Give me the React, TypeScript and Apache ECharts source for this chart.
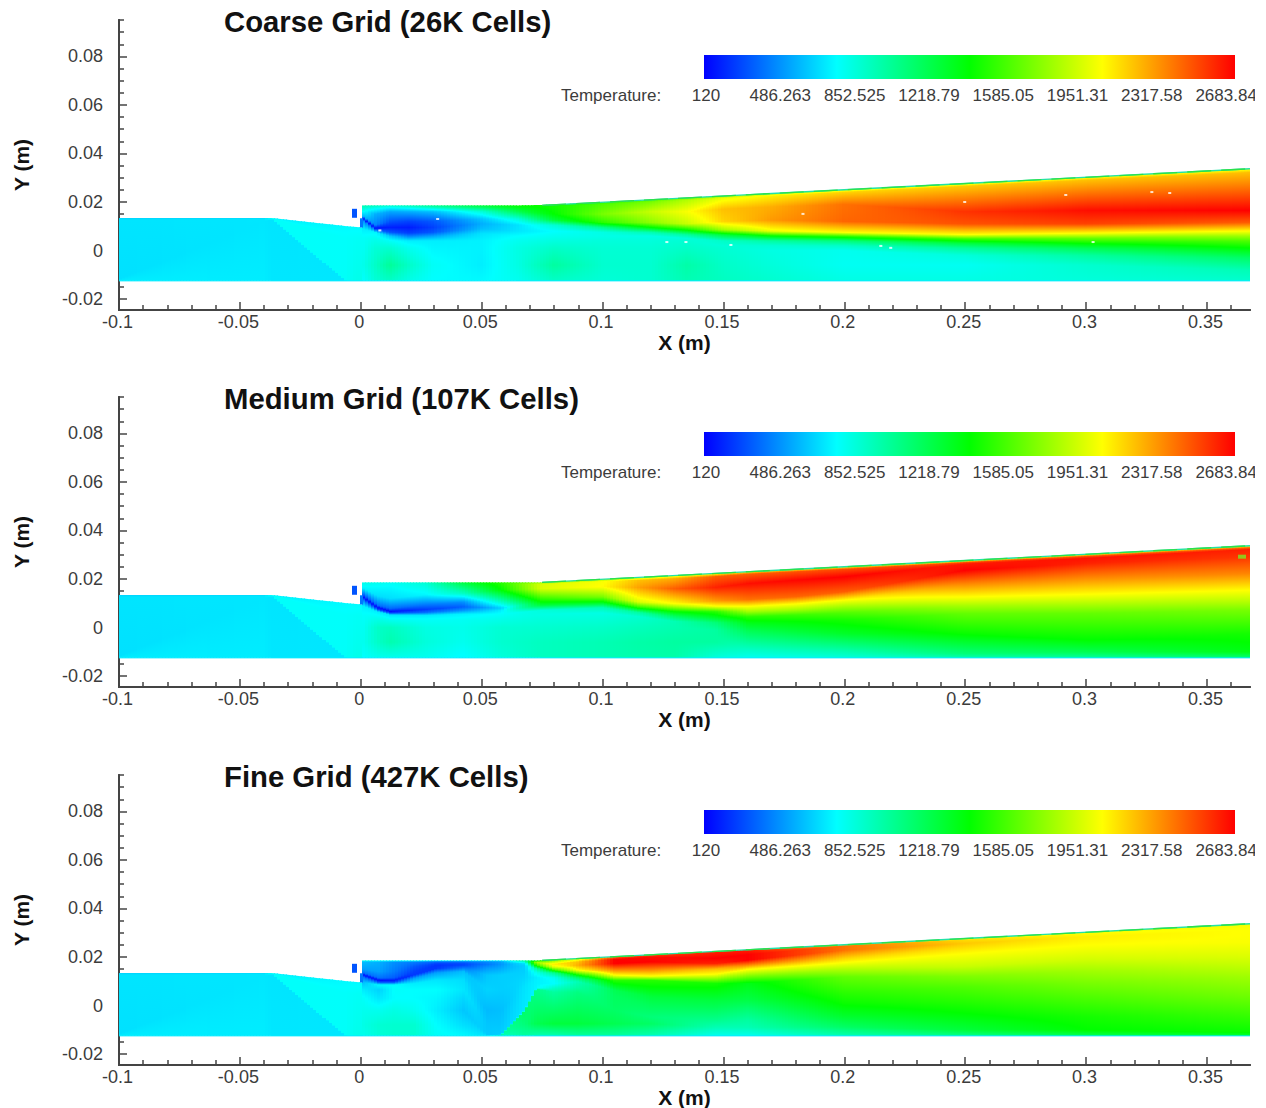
import React, { useEffect, useRef } from "react";
import * as echarts from "echarts";

type Stop = [number, number];
type Block = { xs: number[]; rows: Stop[][] };

const titles = ["Coarse Grid (26K Cells)", "Medium Grid (107K Cells)", "Fine Grid (427K Cells)"];
const colorbarLabels = ["120", "486.263", "852.525", "1218.79", "1585.05", "1951.31", "2317.58", "2683.84"];
const xMajorTicks = [-0.1, -0.05, 0, 0.05, 0.1, 0.15, 0.2, 0.25, 0.3, 0.35];
const xMinorTicks = [-0.09, -0.08, -0.07, -0.06, -0.04, -0.03, -0.02, -0.01, 0.01, 0.02, 0.03, 0.04, 0.06, 0.07, 0.08, 0.09, 0.11, 0.12, 0.13, 0.14, 0.16, 0.17, 0.18, 0.19, 0.21, 0.22, 0.23, 0.24, 0.26, 0.27, 0.28, 0.29, 0.31, 0.32, 0.33, 0.34, 0.36];
const yMajorTicks = [-0.02, 0, 0.02, 0.04, 0.06, 0.08];
const yMinorTicks = [-0.015, -0.01, -0.005, 0.005, 0.01, 0.015, 0.025, 0.03, 0.035, 0.045, 0.05, 0.055, 0.065, 0.07, 0.075, 0.085, 0.09, 0.095];

// Temperature scale
const tMin = 120;
const tMax = 2683.84;
const scaleColors = ["#0000ff", "#00ffff", "#00ff00", "#ffff00", "#ff0000"];

// Inlet section, shared by the three grids: [y, temperature] at each station
const inletStations = [-0.1, -0.04, -0.0367, -0.0065, -0.002, 0.0005];
const inletRows: Stop[][] = [
  [[-0.0125, 720], [-0.0118, 685], [0.0125, 695], [0.0131, 670], [0.0134, 640]],
  [[-0.0125, 715], [0.012, 700], [0.0128, 700], [0.0132, 680], [0.0134, 660]],
  [[-0.0125, 700], [0.0128, 695], [0.0131, 770], [0.0133, 770], [0.0134, 720]],
  [[-0.0125, 700], [-0.0125, 700], [-0.0122, 775], [0.005, 770], [0.0101, 750]],
  [[-0.0125, 800], [-0.0125, 800], [-0.0122, 810], [0.005, 780], [0.0097, 750]],
  [[-0.0125, 800], [-0.0125, 800], [-0.0122, 810], [0.005, 780], [0.0095, 750]],
];

// Injector marks
const injectorStations = [-0.0036, -0.0019];
const injectorRows: Stop[][] = [
  [[0.0135, 330], [0.0172, 330]],
  [[0.0135, 330], [0.0172, 330]],
];
const lipStations = [-0.0005, 0.0005];
const lipRows: Stop[][] = [
  [[0.0095, 420], [0.0133, 420]],
  [[0.0095, 420], [0.0133, 420]],
];

// Coarse grid
const coarseStations = [0.0005, 0.006, 0.012, 0.02, 0.03, 0.05, 0.065, 0.08, 0.1, 0.12, 0.135, 0.15, 0.17, 0.2, 0.25, 0.3, 0.3678];
const coarseRows: Stop[][] = [
  [[-0.0125, 760], [-0.006, 800], [0.001, 780], [0.005, 780], [0.009, 720], [0.0125, 500], [0.0135, 180], [0.0145, 600], [0.017, 850], [0.018, 920], [0.0186, 950]],
  [[-0.0125, 860], [-0.006, 900], [0.001, 860], [0.005, 800], [0.0075, 740], [0.0085, 400], [0.0092, 150], [0.0105, 450], [0.015, 560], [0.018, 850], [0.0186, 950]],
  [[-0.0125, 900], [-0.006, 1020], [0.001, 880], [0.004, 780], [0.006, 620], [0.0075, 340], [0.0095, 200], [0.012, 330], [0.016, 540], [0.018, 800], [0.0186, 900]],
  [[-0.0125, 820], [-0.006, 900], [0.001, 800], [0.004, 720], [0.0055, 500], [0.0072, 280], [0.0095, 190], [0.012, 290], [0.016, 560], [0.018, 850], [0.0186, 950]],
  [[-0.0125, 760], [-0.006, 780], [0.001, 740], [0.004, 720], [0.006, 520], [0.0075, 340], [0.0095, 280], [0.012, 340], [0.016, 600], [0.018, 950], [0.0186, 1050]],
  [[-0.0125, 750], [-0.006, 720], [0.001, 730], [0.004, 730], [0.007, 690], [0.009, 600], [0.011, 560], [0.013, 620], [0.016, 860], [0.018, 1180], [0.0186, 1250]],
  [[-0.0125, 800], [-0.006, 830], [0.001, 830], [0.004, 800], [0.006, 760], [0.008, 700], [0.0105, 690], [0.013, 850], [0.016, 1200], [0.018, 1360], [0.0186, 1400]],
  [[-0.0125, 900], [-0.006, 1000], [0.001, 900], [0.004, 840], [0.006, 800], [0.008, 760], [0.0105, 870], [0.0125, 1250], [0.015, 1400], [0.018, 1450], [0.0189, 1450]],
  [[-0.0125, 860], [-0.006, 880], [0.001, 870], [0.004, 850], [0.006, 820], [0.0075, 830], [0.0095, 1050], [0.0115, 1500], [0.015, 1700], [0.019, 1600], [0.0199, 1500]],
  [[-0.0125, 880], [-0.006, 880], [0.001, 870], [0.004, 850], [0.006, 830], [0.0075, 960], [0.0095, 1400], [0.0115, 1750], [0.016, 1900], [0.02, 1700], [0.0209, 1600]],
  [[-0.0125, 950], [-0.006, 980], [0.001, 900], [0.004, 870], [0.005, 850], [0.0065, 1000], [0.0085, 1420], [0.011, 1900], [0.016, 2030], [0.0207, 1850], [0.0217, 1700]],
  [[-0.0125, 920], [-0.006, 900], [0.001, 870], [0.002, 860], [0.004, 900], [0.0065, 1250], [0.0085, 1800], [0.012, 2150], [0.017, 2200], [0.0215, 2000], [0.0225, 1800]],
  [[-0.0125, 880], [-0.006, 850], [0, 830], [0.002, 870], [0.004, 1000], [0.006, 1400], [0.008, 2000], [0.0125, 2300], [0.018, 2250], [0.0225, 2080], [0.0235, 1900]],
  [[-0.0125, 830], [-0.006, 790], [0, 800], [0.002, 900], [0.004, 1100], [0.0058, 1500], [0.0075, 2050], [0.012, 2430], [0.019, 2400], [0.024, 2150], [0.025, 1950]],
  [[-0.0125, 830], [-0.006, 790], [-0.002, 850], [0.001, 1020], [0.003, 1250], [0.0048, 1550], [0.0066, 2050], [0.011, 2480], [0.016, 2560], [0.0265, 2180], [0.0276, 1950]],
  [[-0.0125, 850], [-0.006, 880], [-0.002, 1000], [0.001, 1200], [0.003, 1420], [0.005, 1650], [0.0072, 2050], [0.011, 2520], [0.0165, 2650], [0.029, 2200], [0.0302, 2000]],
  [[-0.0125, 880], [-0.008, 950], [-0.003, 1150], [0.001, 1400], [0.004, 1600], [0.006, 1800], [0.0081, 2050], [0.0115, 2450], [0.0165, 2684], [0.0322, 2200], [0.0337, 2000]],
];

// Medium grid
const mediumStations = [0.0005, 0.007, 0.0124, 0.027, 0.042, 0.058, 0.075, 0.1, 0.115, 0.13, 0.147, 0.16, 0.18, 0.2, 0.25, 0.3, 0.3678];
const mediumRows: Stop[][] = [
  [[-0.0125, 760], [-0.006, 790], [0, 780], [0.005, 770], [0.009, 730], [0.0115, 450], [0.0128, 170], [0.0138, 350], [0.0165, 740], [0.0178, 790], [0.0186, 820]],
  [[-0.0125, 800], [-0.006, 900], [0, 900], [0.004, 800], [0.0065, 720], [0.0075, 300], [0.0082, 140], [0.0092, 400], [0.013, 680], [0.0178, 780], [0.0186, 820]],
  [[-0.0125, 800], [-0.006, 960], [0, 920], [0.003, 800], [0.0052, 700], [0.006, 300], [0.0066, 160], [0.0078, 380], [0.012, 680], [0.0178, 770], [0.0186, 800]],
  [[-0.0125, 800], [-0.006, 850], [0, 830], [0.003, 780], [0.005, 710], [0.0062, 400], [0.0074, 270], [0.0095, 430], [0.0135, 740], [0.0178, 850], [0.0186, 880]],
  [[-0.0125, 750], [-0.006, 800], [0, 810], [0.003, 790], [0.0055, 730], [0.007, 500], [0.0085, 360], [0.0105, 480], [0.014, 900], [0.0178, 1180], [0.0186, 1250]],
  [[-0.0125, 850], [-0.006, 880], [0, 870], [0.003, 820], [0.0055, 770], [0.007, 720], [0.008, 640], [0.011, 950], [0.0155, 1400], [0.0178, 1480], [0.0186, 1500]],
  [[-0.0125, 920], [-0.006, 920], [0, 880], [0.0055, 830], [0.0071, 850], [0.0092, 1250], [0.0105, 1400], [0.012, 1550], [0.016, 1950], [0.0178, 1950], [0.0186, 1800]],
  [[-0.0125, 950], [-0.006, 950], [0, 900], [0.006, 830], [0.0082, 950], [0.0095, 1200], [0.0106, 1400], [0.0126, 1700], [0.0168, 2050], [0.019, 2030], [0.0199, 1800]],
  [[-0.0125, 970], [-0.006, 980], [0, 930], [0.0045, 880], [0.0062, 1000], [0.0075, 1300], [0.0085, 1550], [0.0105, 1950], [0.0165, 2280], [0.0195, 2200], [0.0206, 1850]],
  [[-0.0125, 980], [-0.006, 1000], [0, 960], [0.0025, 950], [0.0045, 1150], [0.0065, 1400], [0.0085, 1800], [0.0099, 2050], [0.016, 2450], [0.0202, 2250], [0.0214, 1950]],
  [[-0.0125, 850], [-0.006, 1000], [-0.001, 1000], [0.002, 1100], [0.004, 1300], [0.0065, 1500], [0.0088, 2040], [0.011, 2300], [0.0165, 2600], [0.021, 2450], [0.0223, 2000]],
  [[-0.0125, 800], [-0.0093, 900], [-0.0011, 1200], [0.002, 1350], [0.0044, 1500], [0.0065, 1800], [0.0087, 2040], [0.0115, 2400], [0.0181, 2650], [0.022, 2450], [0.023, 2100]],
  [[-0.0125, 820], [-0.0098, 920], [-0.0018, 1250], [0.0025, 1400], [0.0052, 1550], [0.0072, 1800], [0.0097, 2040], [0.0127, 2430], [0.0195, 2670], [0.023, 2480], [0.024, 2070]],
  [[-0.0125, 850], [-0.01, 950], [-0.0025, 1300], [0.003, 1450], [0.006, 1600], [0.0085, 1800], [0.0113, 2040], [0.0147, 2450], [0.0209, 2684], [0.024, 2500], [0.025, 2050]],
  [[-0.0125, 950], [-0.0107, 1100], [-0.0025, 1420], [0.0058, 1650], [0.009, 1820], [0.0126, 2043], [0.0181, 2350], [0.0236, 2684], [0.0262, 2620], [0.0268, 2500], [0.0276, 1950]],
  [[-0.0125, 1000], [-0.01, 1200], [-0.0052, 1400], [0.0058, 1650], [0.0095, 1830], [0.0137, 2043], [0.0195, 2300], [0.0264, 2600], [0.0285, 2640], [0.0293, 2500], [0.0302, 2000]],
  [[-0.0125, 1100], [-0.01, 1350], [-0.0025, 1450], [0.0071, 1700], [0.011, 1870], [0.0154, 2043], [0.0223, 2350], [0.0291, 2550], [0.0322, 2600], [0.0329, 2450], [0.0337, 2000]],
];

// Fine grid
const fineStations = [0.0005, 0.0076, 0.014, 0.022, 0.0314, 0.0425, 0.052, 0.058, 0.0678, 0.0727, 0.08, 0.09, 0.105, 0.12, 0.147, 0.16, 0.2, 0.25, 0.3, 0.3678];
const fineRows: Stop[][] = [
  [[-0.0125, 800], [-0.008, 820], [-0.002, 800], [0.003, 780], [0.0065, 720], [0.0095, 600], [0.0118, 420], [0.0128, 150], [0.0136, 400], [0.015, 520], [0.018, 600], [0.0186, 820]],
  [[-0.0125, 860], [-0.008, 870], [-0.002, 800], [0.003, 700], [0.0065, 650], [0.0085, 750], [0.0095, 350], [0.0104, 150], [0.0113, 400], [0.014, 520], [0.0178, 560], [0.0186, 780]],
  [[-0.0125, 880], [-0.008, 880], [-0.002, 830], [0.003, 760], [0.0065, 770], [0.0085, 760], [0.0096, 320], [0.0104, 190], [0.0114, 350], [0.014, 430], [0.0178, 480], [0.0186, 760]],
  [[-0.0125, 880], [-0.008, 880], [-0.002, 800], [0.003, 760], [0.0065, 760], [0.009, 720], [0.0112, 520], [0.0125, 260], [0.014, 280], [0.016, 340], [0.0178, 430], [0.0186, 760]],
  [[-0.0125, 780], [-0.008, 760], [-0.002, 720], [0.003, 740], [0.0065, 760], [0.0105, 700], [0.0135, 520], [0.0153, 260], [0.0165, 250], [0.0172, 280], [0.018, 380], [0.0186, 740]],
  [[-0.0125, 750], [-0.008, 680], [-0.002, 620], [0.003, 660], [0.0065, 700], [0.0105, 680], [0.014, 600], [0.0155, 420], [0.0166, 300], [0.0172, 300], [0.018, 400], [0.0186, 740]],
  [[-0.0125, 690], [-0.0125, 690], [-0.0124, 650], [-0.012, 630], [-0.008, 620], [-0.002, 590], [0.0065, 650], [0.0125, 620], [0.0155, 500], [0.0169, 420], [0.018, 460], [0.0186, 740]],
  [[-0.0125, 900], [-0.0124, 950], [-0.0123, 980], [-0.0119, 640], [-0.008, 620], [-0.002, 600], [0.0065, 640], [0.0125, 640], [0.015, 560], [0.0169, 500], [0.018, 520], [0.0186, 740]],
  [[-0.0125, 1000], [-0.0075, 1100], [-0.0024, 1150], [-0.0018, 700], [0.003, 700], [0.008, 690], [0.0115, 660], [0.014, 640], [0.0166, 640], [0.0175, 700], [0.018, 900], [0.0186, 1000]],
  [[-0.0125, 950], [-0.0075, 1200], [0.0068, 1050], [0.0072, 740], [0.009, 730], [0.0105, 725], [0.0115, 720], [0.0135, 800], [0.0152, 1000], [0.0165, 1500], [0.0178, 1800], [0.0186, 1350]],
  [[-0.0125, 950], [-0.0075, 1250], [0.0055, 1000], [0.0072, 900], [0.009, 760], [0.0105, 770], [0.0115, 800], [0.0135, 1050], [0.0145, 1500], [0.0158, 1950], [0.017, 2100], [0.0189, 1700]],
  [[-0.0125, 1000], [-0.0075, 1250], [0.0055, 1080], [0.0075, 1000], [0.0098, 950], [0.0108, 1050], [0.0115, 1150], [0.0125, 1400], [0.0146, 2040], [0.0166, 2250], [0.018, 2200], [0.0194, 1900]],
  [[-0.0125, 1000], [-0.0075, 1200], [-0.002, 1150], [0.004, 1170], [0.0063, 1200], [0.0104, 1500], [0.0115, 1800], [0.0125, 2040], [0.0143, 2300], [0.0173, 2684], [0.019, 2684], [0.0201, 2400]],
  [[-0.0125, 950], [-0.0075, 1150], [-0.0047, 1100], [0, 1180], [0.0036, 1250], [0.0104, 1500], [0.0113, 1800], [0.0121, 2040], [0.0143, 2300], [0.018, 2684], [0.02, 2650], [0.0209, 2500]],
  [[-0.0125, 800], [-0.009, 950], [-0.006, 1050], [-0.001, 1180], [0.0022, 1250], [0.0091, 1450], [0.011, 1750], [0.0129, 2040], [0.015, 2200], [0.0173, 2600], [0.0194, 2684], [0.0223, 2600]],
  [[-0.0125, 800], [-0.009, 950], [-0.006, 1000], [-0.001, 1130], [0.002, 1220], [0.0091, 1350], [0.012, 1700], [0.0153, 2100], [0.017, 2400], [0.0187, 2684], [0.021, 2684], [0.023, 2600]],
  [[-0.0125, 950], [-0.0088, 1150], [-0.004, 1300], [0.0008, 1420], [0.005, 1500], [0.0118, 1650], [0.015, 1850], [0.0177, 2043], [0.0194, 2150], [0.0228, 2400], [0.0245, 2400], [0.025, 2200]],
  [[-0.0125, 1050], [-0.0102, 1250], [-0.0033, 1400], [0.002, 1500], [0.0077, 1600], [0.012, 1720], [0.016, 1900], [0.0214, 2043], [0.024, 2130], [0.0256, 2180], [0.027, 2130], [0.0276, 2000]],
  [[-0.0125, 1180], [-0.0102, 1400], [-0.0047, 1450], [0.002, 1570], [0.0091, 1700], [0.014, 1800], [0.019, 1930], [0.0249, 2043], [0.027, 2070], [0.0283, 2080], [0.0295, 2050], [0.0302, 1980]],
  [[-0.0125, 1250], [-0.0109, 1420], [-0.0033, 1550], [0.004, 1680], [0.0118, 1800], [0.016, 1880], [0.02, 1950], [0.026, 2030], [0.029, 2040], [0.031, 2040], [0.033, 2020], [0.0337, 1950]],
];

// Walls and isolated cells
const slopedWall = [[0.075, 0.0186], [0.3678, 0.0337]];
const lowerWall = [[-0.1, -0.0125], [0.3678, -0.0125]];
const coarseSpecks = [[0.0318, 0.013], [0.0079, 0.0083], [0.1266, 0.0035], [0.1345, 0.0035], [0.1531, 0.0023], [0.1829, 0.0151], [0.2498, 0.02], [0.2916, 0.0229], [0.3272, 0.0241], [0.3346, 0.0237], [0.2151, 0.0019], [0.2192, 0.0011], [0.3029, 0.0035]];
const mediumSpecks = [[0.3645, 0.0292]];

const X_MIN = -0.1;
const X_MAX = 0.3678;
const Y_MIN = -0.0245;
const Y_MAX = 0.095;
const panelTops = [20, 397, 775];
const PANEL_H = 290;
const FONT = "'Liberation Sans', Arial, sans-serif";

const knots = [0, 1, 2, 3, 4].map((i) => tMin + ((tMax - tMin) * i) / 4);

function hex(c: string) {
  return [parseInt(c.slice(1, 3), 16), parseInt(c.slice(3, 5), 16), parseInt(c.slice(5, 7), 16)];
}
function tempColor(t: number) {
  const f = Math.max(0, Math.min(0.99999, (t - tMin) / (tMax - tMin))) * 4;
  const i = Math.floor(f);
  const a = hex(scaleColors[i]);
  const b = hex(scaleColors[i + 1]);
  const u = f - i;
  const m = a.map((v, k) => Math.round(v + (b[k] - v) * u));
  return `rgb(${m[0]},${m[1]},${m[2]})`;
}
function profileAt(b: Block, x: number): Stop[] {
  let i = 0;
  while (i < b.xs.length - 2 && x > b.xs[i + 1]) i++;
  const u = Math.max(0, Math.min(1, (x - b.xs[i]) / (b.xs[i + 1] - b.xs[i])));
  return b.rows[i].map((s, k) => [
    s[0] + (b.rows[i + 1][k][0] - s[0]) * u,
    s[1] + (b.rows[i + 1][k][1] - s[1]) * u,
  ]) as Stop[];
}
function gradientFor(p: Stop[], yPxBottom: number, yPxTop: number) {
  const y0 = p[0][0];
  const y1 = p[p.length - 1][0];
  const span = Math.max(y1 - y0, 1e-9);
  const stops: { offset: number; color: string }[] = [];
  const add = (y: number, t: number) => stops.push({ offset: Math.max(0, Math.min(1, (y - y0) / span)), color: tempColor(t) });
  for (let i = 0; i < p.length; i++) {
    add(p[i][0], p[i][1]);
    if (i < p.length - 1) {
      const [ya, ta] = p[i];
      const [yb, tb] = p[i + 1];
      const cross = knots.filter((k) => (k - ta) * (k - tb) < 0);
      if (tb < ta) cross.reverse();
      cross.forEach((k) => add(ya + ((yb - ya) * (k - ta)) / (tb - ta), k));
    }
  }
  return new echarts.graphic.LinearGradient(0, yPxBottom, 0, yPxTop, stops, true);
}

function fieldSeries(block: Block, panel: number, step: number) {
  const start = block.xs[0];
  const end = block.xs[block.xs.length - 1];
  const n = Math.max(1, Math.round((end - start) / step));
  const strips: number[][] = [];
  for (let i = 0; i < n; i++) strips.push([start + ((end - start) * i) / n, start + ((end - start) * (i + 1)) / n]);
  return {
    type: "custom",
    xAxisIndex: panel * 2,
    yAxisIndex: panel * 2,
    coordinateSystem: "cartesian2d",
    silent: true,
    clip: false,
    data: strips,
    encode: { x: [0, 1] },
    renderItem: (_: any, api: any) => {
      const xa = api.value(0);
      const xb = api.value(1);
      const pa = profileAt(block, xa);
      const pb = profileAt(block, xb);
      const pm = profileAt(block, (xa + xb) / 2);
      const top = (p: Stop[]) => p[p.length - 1][0];
      const a0 = api.coord([xa, pa[0][0]]);
      const a1 = api.coord([xa, top(pa)]);
      const b0 = api.coord([xb, pb[0][0]]);
      const b1 = api.coord([xb, top(pb)]);
      const mb = api.coord([xa, pm[0][0]])[1];
      const mt = api.coord([xa, top(pm)])[1];
      const left = Math.round(a0[0]);
      const edge = api.coord([X_MAX, 0])[0];
      const right = Math.min(edge, Math.max(left + 1, Math.round(b0[0]) + 1));
      return {
        type: "polygon",
        shape: { points: [[left, a0[1]], [left, a1[1]], [right, b1[1]], [right, b0[1]]] },
        style: { fill: gradientFor(pm, mb, mt) },
      };
    },
  };
}

export default function App() {
  const ref = useRef<HTMLDivElement>(null);
  useEffect(() => {
    const chart = echarts.init(ref.current!, undefined, { renderer: "svg" });
    const grid: any[] = [];
    const xAxis: any[] = [];
    const yAxis: any[] = [];
    const series: any[] = [];
    const title: any[] = [];
    const graphic: any[] = [];
    const fields: Block[] = [
      { xs: coarseStations, rows: coarseRows },
      { xs: mediumStations, rows: mediumRows },
      { xs: fineStations, rows: fineRows },
    ];
    const axisLine = { show: true, onZero: false, lineStyle: { color: "#444", width: 2 } };
    panelTops.forEach((top, p) => {
      grid.push({ left: 119, width: 1131, top, height: PANEL_H, outerBoundsMode: "none", containLabel: false });
      xAxis.push(
        {
          type: "value", gridIndex: p, position: "bottom", min: X_MIN, max: X_MAX, splitLine: { show: false }, axisLine,
          name: "X (m)", nameLocation: "middle", nameGap: 20,
          nameTextStyle: { fontFamily: FONT, fontWeight: "bold", fontSize: 21, color: "#111" },
          axisTick: { show: true, inside: true, length: 8, customValues: xMajorTicks, lineStyle: { color: "#444", width: 1.5 } },
          axisLabel: { show: true, customValues: xMajorTicks, margin: 3, padding: [0, 3, 0, 0], fontFamily: FONT, fontSize: 18, color: "#3c3c3c", formatter: (v: number) => String(v) },
        },
        {
          type: "value", gridIndex: p, position: "bottom", min: X_MIN, max: X_MAX, splitLine: { show: false }, axisLine,
          axisTick: { show: true, inside: true, length: 5, customValues: xMinorTicks, lineStyle: { color: "#444", width: 1.5 } },
          axisLabel: { show: false },
        }
      );
      yAxis.push(
        {
          type: "value", gridIndex: p, position: "left", min: Y_MIN, max: Y_MAX, splitLine: { show: false }, axisLine,
          name: "Y (m)", nameLocation: "middle", nameGap: 87,
          nameTextStyle: { fontFamily: FONT, fontWeight: "bold", fontSize: 21, color: "#111" },
          axisTick: { show: true, inside: true, length: 8, customValues: yMajorTicks, lineStyle: { color: "#444", width: 1.5 } },
          axisLabel: { show: true, customValues: yMajorTicks, margin: 16, fontFamily: FONT, fontSize: 18, color: "#3c3c3c", formatter: (v: number) => String(v) },
        },
        {
          type: "value", gridIndex: p, position: "left", min: Y_MIN, max: Y_MAX, splitLine: { show: false }, axisLine,
          axisTick: { show: true, inside: true, length: 5, customValues: yMinorTicks, lineStyle: { color: "#444", width: 1.5 } },
          axisLabel: { show: false },
        }
      );
      series.push(fieldSeries({ xs: inletStations, rows: inletRows }, p, 0.00125));
      series.push(fieldSeries(fields[p], p, 0.00125));
      series.push(fieldSeries({ xs: injectorStations, rows: injectorRows }, p, 0.002));
      series.push(fieldSeries({ xs: lipStations, rows: lipRows }, p, 0.001));
      series.push({
        type: "line", xAxisIndex: p * 2, yAxisIndex: p * 2, data: slopedWall, showSymbol: false, silent: true,
        lineStyle: { color: "#22e2a8", width: 1.3 },
      });
      series.push({
        type: "line", xAxisIndex: p * 2, yAxisIndex: p * 2, data: slopedWall, showSymbol: false, silent: true,
        lineStyle: { color: "#2de04a", width: 1.3, type: [24, 10] },
      });
      series.push({
        type: "line", xAxisIndex: p * 2, yAxisIndex: p * 2, data: lowerWall, showSymbol: false, silent: true,
        lineStyle: { color: "#08eaff", width: 1 },
      });
      const specks = p === 0 ? coarseSpecks : p === 1 ? mediumSpecks : [];
      if (specks.length) {
        series.push({
          type: "scatter", xAxisIndex: p * 2, yAxisIndex: p * 2, data: specks, silent: true,
          symbol: "rect", symbolSize: p === 0 ? [3, 2] : [8, 4],
          itemStyle: { color: p === 0 ? "#ffffff" : "#7bea20" },
        });
      }
      title.push({
        text: titles[p], left: 224, top: top - 13, padding: 0,
        textStyle: { fontFamily: FONT, fontWeight: "bold", fontSize: 29.3, color: "#111" },
      });
      const barTop = top + 35;
      graphic.push({
        type: "rect", silent: true, shape: { x: 704, y: barTop, width: 531, height: 24 },
        style: {
          fill: new echarts.graphic.LinearGradient(0, 0, 1, 0, scaleColors.map((c, i) => ({ offset: i / 4, color: c }))),
        },
      });
      graphic.push({
        type: "text", silent: true, x: 561, y: top + 75,
        style: { text: "Temperature:", fontFamily: FONT, fontSize: 17, fill: "#3c3c3c", verticalAlign: "middle" },
      });
      colorbarLabels.forEach((label, i) => {
        graphic.push({
          type: "text", silent: true, x: 706 + i * 74.3, y: top + 75,
          style: { text: label, fontFamily: FONT, fontSize: 17, fill: "#3c3c3c", align: "center", verticalAlign: "middle" },
        });
      });
      graphic.push({ type: "rect", silent: true, z: 100, shape: { x: 1255, y: top + 60, width: 11, height: 30 }, style: { fill: "#fff" } });
    });
    chart.setOption({ animation: false, backgroundColor: "#fff", title, grid, xAxis, yAxis, series, graphic });
    return () => chart.dispose();
  }, []);
  return <div ref={ref} style={{ position: "absolute", left: 0, top: 0, width: 1266, height: 1108 }} />;
}
